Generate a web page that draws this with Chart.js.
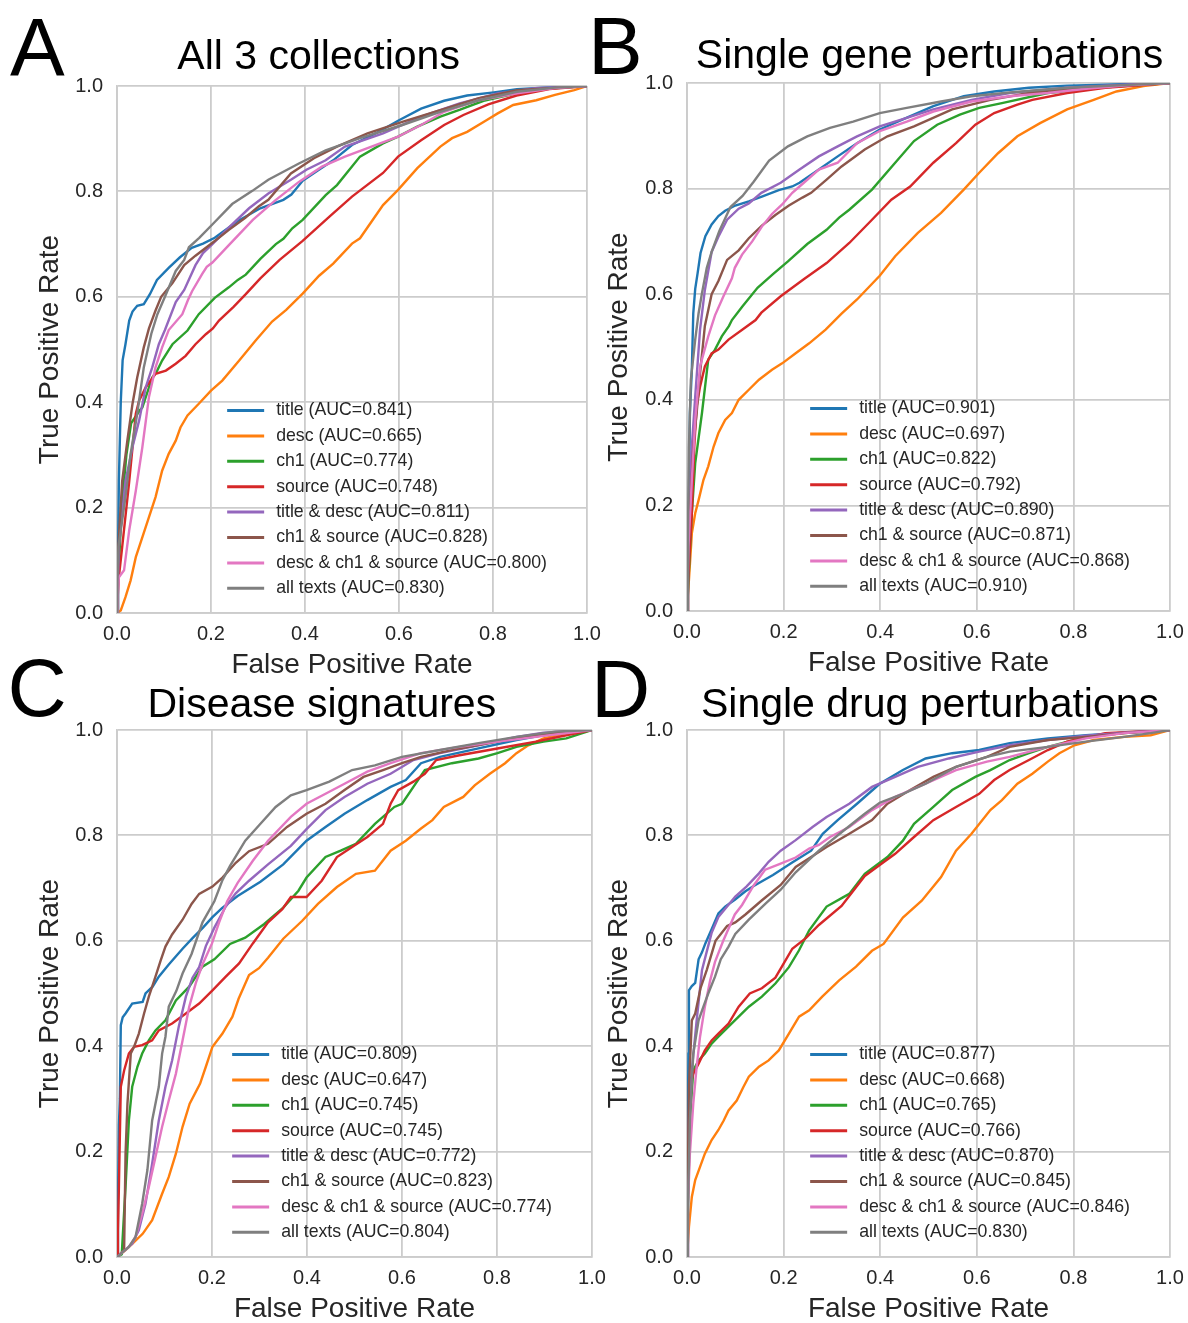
<!DOCTYPE html>
<html>
<head>
<meta charset="utf-8">
<title>ROC curves</title>
<script src="https://cdn.jsdelivr.net/npm/chart.js@4.4.1/dist/chart.umd.min.js"></script>
<style>
    body { margin: 0; background: #fff; }
    #fig { position: relative; width: 1188px; height: 1323px; overflow: hidden; }
    #fig canvas { position: absolute; }
</style>
</head>
<body>
<div id="fig">
    <canvas id="rocAll" width="610" height="690" style="left:0px;top:0px"></canvas>
    <canvas id="rocGene" width="618" height="690" style="left:575px;top:0px"></canvas>
    <canvas id="rocDisease" width="615" height="683" style="left:0px;top:640px"></canvas>
    <canvas id="rocDrug" width="618" height="683" style="left:575px;top:640px"></canvas>
</div>
<script>
const fields = ['title', 'desc', 'ch1', 'source', 'title & desc', 'ch1 & source', 'desc & ch1 & source', 'all texts'];
const colors = ['#1f77b4', '#ff7f0e', '#2ca02c', '#d62728', '#9467bd', '#8c564b', '#e377c2', '#7f7f7f'];

const aucAll = [0.841, 0.665, 0.774, 0.748, 0.811, 0.828, 0.800, 0.830];
const aucGene = [0.901, 0.697, 0.822, 0.792, 0.890, 0.871, 0.868, 0.910];
const aucDisease = [0.809, 0.647, 0.745, 0.745, 0.772, 0.823, 0.774, 0.804];
const aucDrug = [0.877, 0.668, 0.765, 0.766, 0.870, 0.845, 0.846, 0.830];

const tickValues = [0, 0.2, 0.4, 0.6, 0.8, 1.0];

// [false positive rate, true positive rate]
// All 3 collections
const allTitle = [[0,0],[0.002,0.10],[0.004,0.25],[0.008,0.40],[0.012,0.48],[0.018,0.51],[0.026,0.555],[0.033,0.572],[0.043,0.583],[0.057,0.586],[0.07,0.605],[0.085,0.632],[0.11,0.655],[0.134,0.675],[0.159,0.693],[0.183,0.701],[0.208,0.712],[0.257,0.744],[0.305,0.768],[0.354,0.784],[0.371,0.794],[0.395,0.82],[0.428,0.84],[0.46,0.859],[0.50,0.888],[0.55,0.91],[0.60,0.935],[0.647,0.957],[0.696,0.972],[0.745,0.982],[0.802,0.988],[0.851,0.994],[0.908,0.997],[1,1]];
const allDesc = [[0,0],[0.008,0.005],[0.018,0.03],[0.029,0.062],[0.04,0.106],[0.054,0.144],[0.068,0.182],[0.082,0.22],[0.096,0.27],[0.11,0.302],[0.125,0.327],[0.135,0.352],[0.15,0.375],[0.174,0.397],[0.2,0.422],[0.224,0.441],[0.26,0.479],[0.295,0.517],[0.33,0.553],[0.36,0.575],[0.395,0.606],[0.43,0.64],[0.46,0.663],[0.50,0.701],[0.517,0.711],[0.566,0.774],[0.598,0.803],[0.639,0.844],[0.688,0.885],[0.713,0.901],[0.745,0.913],[0.786,0.935],[0.81,0.948],[0.843,0.964],[0.892,0.973],[0.932,0.983],[0.973,0.992],[1,1]];
const allCh1 = [[0,0],[0.002,0.05],[0.004,0.09],[0.01,0.2],[0.02,0.3],[0.03,0.36],[0.049,0.385],[0.054,0.39],[0.075,0.447],[0.0855,0.46],[0.096,0.479],[0.11,0.499],[0.118,0.51],[0.15,0.536],[0.174,0.567],[0.208,0.598],[0.238,0.618],[0.257,0.632],[0.274,0.642],[0.305,0.672],[0.338,0.70],[0.354,0.71],[0.373,0.73],[0.395,0.746],[0.444,0.793],[0.468,0.812],[0.517,0.866],[0.566,0.891],[0.598,0.904],[0.639,0.923],[0.688,0.942],[0.73,0.955],[0.78,0.972],[0.85,0.986],[0.92,0.995],[1,1]];
const allSource = [[0,0],[0.003,0.06],[0.011,0.125],[0.026,0.25],[0.04,0.378],[0.047,0.403],[0.061,0.428],[0.082,0.454],[0.104,0.46],[0.125,0.473],[0.146,0.488],[0.167,0.51],[0.189,0.529],[0.204,0.54],[0.217,0.555],[0.248,0.581],[0.274,0.605],[0.305,0.635],[0.346,0.67],[0.395,0.706],[0.452,0.752],[0.50,0.79],[0.566,0.835],[0.598,0.866],[0.647,0.897],[0.696,0.926],[0.737,0.945],[0.79,0.965],[0.85,0.982],[0.92,0.994],[1,1]];
const allTitleDesc = [[0,0],[0.002,0.06],[0.004,0.125],[0.011,0.188],[0.018,0.25],[0.033,0.315],[0.047,0.365],[0.061,0.428],[0.075,0.466],[0.089,0.51],[0.102,0.537],[0.125,0.59],[0.143,0.613],[0.167,0.66],[0.183,0.683],[0.203,0.70],[0.24,0.733],[0.281,0.768],[0.322,0.796],[0.37,0.822],[0.403,0.841],[0.444,0.859],[0.485,0.885],[0.566,0.91],[0.647,0.942],[0.729,0.967],[0.81,0.986],[0.89,0.996],[1,1]];
const allCh1Source = [[0,0],[0.001,0.08],[0.003,0.13],[0.011,0.25],[0.022,0.327],[0.033,0.397],[0.043,0.447],[0.057,0.504],[0.068,0.54],[0.082,0.574],[0.094,0.60],[0.118,0.626],[0.143,0.66],[0.167,0.678],[0.208,0.706],[0.238,0.727],[0.273,0.75],[0.302,0.772],[0.322,0.784],[0.37,0.834],[0.419,0.863],[0.468,0.885],[0.533,0.91],[0.607,0.932],[0.688,0.954],[0.77,0.977],[0.851,0.992],[1,1]];
const allDescCh1Source = [[0,0],[0.002,0.04],[0.004,0.068],[0.015,0.081],[0.026,0.157],[0.04,0.232],[0.054,0.315],[0.068,0.41],[0.082,0.466],[0.096,0.504],[0.11,0.537],[0.139,0.567],[0.151,0.594],[0.16,0.611],[0.181,0.643],[0.191,0.657],[0.203,0.665],[0.24,0.70],[0.289,0.746],[0.338,0.784],[0.387,0.818],[0.436,0.847],[0.485,0.866],[0.533,0.882],[0.598,0.904],[0.647,0.926],[0.696,0.951],[0.77,0.973],[0.851,0.986],[0.932,0.996],[1,1]];
const allAllTexts = [[0,0],[0.001,0.06],[0.003,0.125],[0.018,0.22],[0.029,0.302],[0.043,0.378],[0.057,0.466],[0.073,0.53],[0.086,0.567],[0.102,0.60],[0.125,0.649],[0.143,0.67],[0.153,0.694],[0.175,0.712],[0.208,0.742],[0.245,0.776],[0.288,0.801],[0.322,0.822],[0.387,0.853],[0.444,0.878],[0.517,0.901],[0.607,0.926],[0.688,0.951],[0.77,0.973],[0.851,0.989],[0.932,0.997],[1,1]];

// Single gene perturbations
const geneTitle = [[0,0],[0.001,0.05],[0.003,0.122],[0.006,0.375],[0.01,0.457],[0.013,0.564],[0.017,0.61],[0.022,0.64],[0.028,0.678],[0.038,0.71],[0.051,0.732],[0.065,0.748],[0.079,0.758],[0.1,0.768],[0.128,0.776],[0.155,0.785],[0.19,0.797],[0.218,0.804],[0.233,0.811],[0.273,0.836],[0.312,0.861],[0.352,0.886],[0.399,0.912],[0.447,0.931],[0.51,0.956],[0.573,0.975],[0.636,0.984],[0.708,0.991],[0.787,0.995],[0.866,0.997],[1,1]];
const geneDesc = [[0,0],[0.001,0.02],[0.004,0.059],[0.01,0.147],[0.017,0.185],[0.024,0.21],[0.034,0.248],[0.044,0.274],[0.055,0.311],[0.065,0.337],[0.079,0.362],[0.093,0.375],[0.107,0.40],[0.128,0.419],[0.149,0.438],[0.176,0.457],[0.197,0.469],[0.225,0.488],[0.253,0.507],[0.287,0.533],[0.32,0.563],[0.352,0.59],[0.399,0.635],[0.431,0.672],[0.478,0.716],[0.526,0.754],[0.573,0.798],[0.605,0.83],[0.644,0.867],[0.684,0.899],[0.731,0.924],[0.787,0.95],[0.842,0.968],[0.889,0.984],[0.945,0.994],[1,1]];
const geneCh1 = [[0,0],[0.001,0.02],[0.003,0.059],[0.01,0.185],[0.017,0.28],[0.031,0.375],[0.044,0.476],[0.058,0.495],[0.072,0.52],[0.087,0.54],[0.093,0.551],[0.115,0.577],[0.146,0.612],[0.178,0.638],[0.209,0.662],[0.249,0.695],[0.289,0.722],[0.315,0.745],[0.336,0.76],[0.383,0.798],[0.431,0.849],[0.47,0.89],[0.518,0.921],[0.565,0.94],[0.605,0.953],[0.652,0.962],[0.747,0.981],[0.866,0.992],[1,1]];
const geneSource = [[0,0],[0.002,0.05],[0.006,0.12],[0.01,0.185],[0.015,0.311],[0.02,0.387],[0.027,0.425],[0.037,0.463],[0.051,0.488],[0.065,0.495],[0.086,0.514],[0.115,0.533],[0.142,0.551],[0.154,0.565],[0.194,0.596],[0.241,0.628],[0.289,0.659],[0.336,0.697],[0.383,0.741],[0.423,0.779],[0.462,0.804],[0.51,0.849],[0.557,0.886],[0.597,0.921],[0.636,0.943],[0.684,0.959],[0.715,0.968],[0.787,0.981],[0.866,0.991],[1,1]];
const geneTitleDesc = [[0,0],[0.002,0.1],[0.005,0.2],[0.01,0.311],[0.017,0.406],[0.027,0.533],[0.037,0.608],[0.051,0.68],[0.065,0.709],[0.083,0.741],[0.107,0.762],[0.128,0.772],[0.154,0.792],[0.194,0.811],[0.233,0.836],[0.273,0.861],[0.312,0.88],[0.352,0.899],[0.399,0.918],[0.455,0.934],[0.51,0.95],[0.589,0.968],[0.668,0.981],[0.787,0.991],[0.905,0.997],[1,1]];
const geneCh1Source = [[0,0],[0.002,0.08],[0.006,0.185],[0.013,0.311],[0.02,0.375],[0.027,0.45],[0.037,0.54],[0.051,0.6],[0.065,0.625],[0.083,0.665],[0.107,0.683],[0.128,0.706],[0.155,0.73],[0.183,0.75],[0.211,0.768],[0.239,0.783],[0.257,0.792],[0.289,0.817],[0.32,0.842],[0.368,0.874],[0.415,0.899],[0.47,0.918],[0.549,0.95],[0.628,0.968],[0.708,0.981],[0.826,0.992],[0.945,0.997],[1,1]];
const geneDescCh1Source = [[0,0],[0.001,0.05],[0.003,0.122],[0.01,0.248],[0.017,0.362],[0.027,0.463],[0.044,0.52],[0.058,0.56],[0.075,0.595],[0.093,0.63],[0.099,0.65],[0.114,0.675],[0.135,0.70],[0.155,0.728],[0.176,0.752],[0.197,0.77],[0.218,0.792],[0.233,0.804],[0.273,0.836],[0.312,0.849],[0.352,0.886],[0.399,0.909],[0.455,0.927],[0.51,0.946],[0.589,0.965],[0.668,0.975],[0.747,0.981],[0.826,0.989],[0.905,0.995],[1,1]];
const geneAllTexts = [[0,0],[0.002,0.15],[0.004,0.311],[0.008,0.438],[0.017,0.514],[0.024,0.564],[0.031,0.602],[0.041,0.65],[0.051,0.68],[0.067,0.72],[0.09,0.765],[0.115,0.786],[0.138,0.813],[0.17,0.853],[0.209,0.88],[0.249,0.899],[0.296,0.915],[0.344,0.927],[0.399,0.943],[0.455,0.953],[0.526,0.965],[0.589,0.975],[0.668,0.982],[0.787,0.991],[0.905,0.996],[1,1]];

// Disease signatures
const diseaseTitle = [[0,0],[0.002,0.1],[0.004,0.25],[0.006,0.30],[0.008,0.44],[0.012,0.455],[0.018,0.462],[0.032,0.481],[0.054,0.484],[0.06,0.50],[0.075,0.513],[0.088,0.532],[0.109,0.555],[0.138,0.585],[0.159,0.605],[0.181,0.625],[0.201,0.645],[0.221,0.662],[0.254,0.685],[0.302,0.712],[0.35,0.745],[0.399,0.79],[0.439,0.816],[0.479,0.841],[0.527,0.867],[0.576,0.892],[0.608,0.905],[0.64,0.937],[0.68,0.949],[0.761,0.965],[0.841,0.981],[0.922,0.994],[1,1]];
const diseaseDesc = [[0,0],[0.018,0.013],[0.032,0.025],[0.054,0.044],[0.074,0.07],[0.095,0.12],[0.109,0.152],[0.124,0.196],[0.138,0.247],[0.153,0.291],[0.175,0.329],[0.187,0.361],[0.201,0.399],[0.222,0.424],[0.243,0.456],[0.256,0.49],[0.278,0.535],[0.299,0.548],[0.318,0.568],[0.35,0.604],[0.39,0.638],[0.423,0.67],[0.463,0.702],[0.503,0.727],[0.543,0.733],[0.576,0.771],[0.608,0.79],[0.64,0.813],[0.664,0.829],[0.688,0.854],[0.729,0.873],[0.753,0.895],[0.785,0.917],[0.817,0.937],[0.841,0.956],[0.866,0.971],[0.898,0.984],[0.946,0.994],[1,1]];
const diseaseCh1 = [[0,0],[0.01,0.005],[0.018,0.133],[0.025,0.259],[0.032,0.323],[0.043,0.361],[0.053,0.386],[0.067,0.411],[0.081,0.43],[0.102,0.449],[0.124,0.487],[0.152,0.513],[0.18,0.551],[0.205,0.565],[0.238,0.594],[0.27,0.606],[0.31,0.632],[0.35,0.663],[0.382,0.695],[0.399,0.72],[0.439,0.759],[0.471,0.771],[0.503,0.784],[0.543,0.822],[0.584,0.854],[0.6,0.86],[0.624,0.892],[0.648,0.924],[0.705,0.937],[0.761,0.946],[0.801,0.956],[0.841,0.968],[0.898,0.978],[0.946,0.984],[1,1]];
const diseaseSource = [[0,0],[0.002,0.05],[0.004,0.133],[0.008,0.323],[0.015,0.354],[0.025,0.386],[0.036,0.399],[0.053,0.402],[0.074,0.411],[0.088,0.43],[0.116,0.443],[0.145,0.462],[0.173,0.481],[0.201,0.506],[0.229,0.532],[0.257,0.557],[0.286,0.595],[0.318,0.635],[0.348,0.66],[0.366,0.683],[0.399,0.683],[0.431,0.714],[0.463,0.759],[0.495,0.778],[0.527,0.797],[0.56,0.822],[0.576,0.86],[0.592,0.886],[0.624,0.902],[0.648,0.917],[0.672,0.943],[0.721,0.952],[0.801,0.965],[0.882,0.978],[0.946,0.99],[1,1]];
const diseaseTitleDesc = [[0,0],[0.032,0.025],[0.046,0.051],[0.06,0.101],[0.074,0.177],[0.088,0.259],[0.102,0.323],[0.116,0.373],[0.13,0.437],[0.145,0.494],[0.159,0.53],[0.173,0.55],[0.187,0.59],[0.205,0.625],[0.229,0.665],[0.25,0.69],[0.278,0.714],[0.318,0.745],[0.366,0.78],[0.399,0.812],[0.439,0.848],[0.479,0.873],[0.527,0.898],[0.576,0.917],[0.624,0.943],[0.68,0.956],[0.761,0.971],[0.841,0.987],[0.898,0.995],[1,1]];
const diseaseCh1Source = [[0,0],[0.015,0.013],[0.018,0.196],[0.022,0.291],[0.029,0.386],[0.036,0.399],[0.046,0.424],[0.057,0.462],[0.067,0.494],[0.081,0.532],[0.092,0.563],[0.102,0.589],[0.116,0.612],[0.138,0.64],[0.157,0.67],[0.173,0.689],[0.201,0.703],[0.222,0.72],[0.25,0.748],[0.278,0.77],[0.318,0.784],[0.358,0.816],[0.399,0.841],[0.439,0.86],[0.479,0.886],[0.519,0.911],[0.56,0.924],[0.6,0.937],[0.64,0.949],[0.721,0.965],[0.801,0.978],[0.882,0.99],[1,1]];
const diseaseDescCh1Source = [[0,0],[0.025,0.019],[0.039,0.038],[0.053,0.082],[0.067,0.133],[0.081,0.19],[0.095,0.247],[0.109,0.297],[0.124,0.348],[0.138,0.411],[0.152,0.475],[0.166,0.52],[0.18,0.555],[0.2,0.595],[0.215,0.635],[0.232,0.675],[0.254,0.71],[0.286,0.752],[0.318,0.79],[0.366,0.835],[0.399,0.86],[0.439,0.879],[0.479,0.898],[0.527,0.921],[0.576,0.937],[0.64,0.956],[0.721,0.968],[0.801,0.978],[0.882,0.987],[1,1]];
const diseaseAllTexts = [[0,0],[0.025,0.019],[0.039,0.038],[0.053,0.101],[0.064,0.165],[0.074,0.259],[0.088,0.323],[0.095,0.386],[0.102,0.418],[0.109,0.475],[0.125,0.505],[0.138,0.538],[0.157,0.575],[0.18,0.635],[0.205,0.675],[0.222,0.715],[0.238,0.742],[0.27,0.79],[0.302,0.822],[0.334,0.854],[0.366,0.876],[0.399,0.886],[0.447,0.902],[0.495,0.924],[0.543,0.933],[0.6,0.949],[0.68,0.962],[0.761,0.975],[0.841,0.987],[0.922,0.997],[1,1]];

// Single drug perturbations
const drugTitle = [[0,0],[0.001,0.196],[0.003,0.386],[0.004,0.506],[0.01,0.514],[0.017,0.52],[0.024,0.565],[0.031,0.578],[0.038,0.595],[0.051,0.622],[0.065,0.652],[0.079,0.665],[0.099,0.678],[0.121,0.694],[0.138,0.704],[0.178,0.725],[0.217,0.748],[0.257,0.771],[0.281,0.803],[0.312,0.829],[0.352,0.86],[0.399,0.898],[0.447,0.924],[0.494,0.946],[0.549,0.956],[0.605,0.962],[0.668,0.975],[0.747,0.984],[0.826,0.99],[0.905,0.995],[1,1]];
const drugDesc = [[0,0],[0.004,0.057],[0.01,0.114],[0.017,0.146],[0.027,0.171],[0.037,0.196],[0.051,0.222],[0.065,0.241],[0.076,0.259],[0.086,0.278],[0.103,0.297],[0.117,0.323],[0.128,0.342],[0.149,0.361],[0.169,0.373],[0.19,0.392],[0.211,0.424],[0.232,0.456],[0.253,0.468],[0.28,0.494],[0.315,0.525],[0.35,0.551],[0.383,0.581],[0.407,0.594],[0.447,0.644],[0.486,0.676],[0.526,0.721],[0.557,0.771],[0.589,0.803],[0.628,0.848],[0.652,0.867],[0.684,0.898],[0.715,0.917],[0.747,0.94],[0.771,0.956],[0.802,0.971],[0.842,0.981],[0.905,0.987],[0.96,0.99],[1,1]];
const drugCh1 = [[0,0],[0.003,0.133],[0.006,0.26],[0.013,0.354],[0.024,0.373],[0.037,0.386],[0.051,0.405],[0.065,0.418],[0.086,0.437],[0.107,0.456],[0.128,0.475],[0.155,0.494],[0.183,0.519],[0.211,0.55],[0.232,0.582],[0.253,0.62],[0.289,0.665],[0.322,0.682],[0.336,0.689],[0.368,0.727],[0.415,0.759],[0.447,0.79],[0.47,0.822],[0.51,0.854],[0.549,0.886],[0.597,0.911],[0.628,0.924],[0.668,0.943],[0.708,0.956],[0.747,0.968],[0.826,0.987],[0.905,0.994],[1,1]];
const drugSource = [[0,0],[0.003,0.196],[0.006,0.323],[0.013,0.348],[0.024,0.367],[0.037,0.392],[0.051,0.411],[0.065,0.424],[0.086,0.443],[0.107,0.475],[0.13,0.5],[0.155,0.51],[0.183,0.53],[0.197,0.552],[0.218,0.585],[0.246,0.605],[0.273,0.63],[0.32,0.666],[0.368,0.723],[0.399,0.744],[0.431,0.765],[0.47,0.797],[0.51,0.829],[0.557,0.854],[0.605,0.879],[0.636,0.905],[0.668,0.924],[0.708,0.943],[0.747,0.962],[0.787,0.978],[0.866,0.994],[1,1]];
const drugTitleDesc = [[0,0],[0.002,0.2],[0.005,0.3],[0.01,0.354],[0.02,0.449],[0.031,0.544],[0.041,0.58],[0.051,0.615],[0.065,0.645],[0.083,0.665],[0.1,0.684],[0.123,0.703],[0.149,0.728],[0.169,0.75],[0.194,0.771],[0.225,0.791],[0.26,0.816],[0.289,0.835],[0.336,0.86],[0.383,0.892],[0.431,0.911],[0.478,0.93],[0.542,0.946],[0.605,0.959],[0.668,0.971],[0.747,0.981],[0.826,0.989],[0.905,0.995],[1,1]];
const drugCh1Source = [[0,0],[0.001,0.1],[0.004,0.323],[0.01,0.449],[0.017,0.462],[0.028,0.51],[0.041,0.545],[0.059,0.6],[0.083,0.628],[0.1,0.635],[0.121,0.65],[0.154,0.676],[0.194,0.706],[0.225,0.74],[0.257,0.759],[0.289,0.778],[0.336,0.803],[0.383,0.829],[0.415,0.86],[0.462,0.886],[0.51,0.911],[0.557,0.93],[0.621,0.949],[0.668,0.968],[0.747,0.981],[0.826,0.987],[0.905,0.994],[1,1]];
const drugDescCh1Source = [[0,0],[0.002,0.1],[0.006,0.196],[0.013,0.291],[0.02,0.361],[0.027,0.418],[0.037,0.475],[0.048,0.525],[0.058,0.56],[0.075,0.6],[0.099,0.65],[0.114,0.668],[0.138,0.705],[0.162,0.735],[0.19,0.745],[0.225,0.758],[0.253,0.775],[0.273,0.782],[0.296,0.797],[0.336,0.816],[0.383,0.848],[0.431,0.873],[0.494,0.898],[0.557,0.924],[0.621,0.94],[0.668,0.949],[0.747,0.968],[0.826,0.984],[0.905,0.994],[1,1]];
const drugAllTexts = [[0,0],[0.002,0.1],[0.006,0.26],[0.013,0.386],[0.024,0.449],[0.034,0.475],[0.044,0.5],[0.058,0.532],[0.07,0.565],[0.086,0.589],[0.1,0.613],[0.128,0.64],[0.162,0.67],[0.194,0.697],[0.225,0.73],[0.273,0.771],[0.32,0.806],[0.368,0.841],[0.399,0.862],[0.447,0.879],[0.494,0.898],[0.557,0.93],[0.621,0.949],[0.668,0.959],[0.747,0.968],[0.826,0.978],[0.905,0.987],[0.96,0.994],[1,1]];

const FONT = '"Liberation Sans", Arial, Helvetica, sans-serif';
const TEXT = '#262626';
const GRID = '#cccccc';
Chart.defaults.font.family = FONT;

// big panel letter + panel title
const panelHeading = {
    id: 'panelHeading',
    afterDraw(chart, args, opts) {
        const ctx = chart.ctx;
        ctx.save();
        ctx.fillStyle = '#000';
        ctx.textBaseline = 'alphabetic';
        ctx.textAlign = 'left';
        ctx.font = '82px ' + FONT;
        ctx.fillText(opts.letter, opts.letterX, opts.letterY);
        ctx.textAlign = 'center';
        ctx.font = '41px ' + FONT;
        ctx.fillText(opts.text, opts.titleX, opts.titleY);
        ctx.restore();
    }
};

// frameless legend in the lower right corner of the plot
const rocLegend = {
    id: 'rocLegend',
    afterDatasetsDraw(chart) {
        const {ctx, chartArea} = chart;
        const sets = chart.data.datasets;
        ctx.save();
        ctx.font = '17.7px ' + FONT;
        ctx.textBaseline = 'middle';
        ctx.textAlign = 'left';
        const widest = Math.max(...sets.map(d => ctx.measureText(d.label).width));
        const textX = chartArea.right - 40 - widest;
        sets.forEach((d, i) => {
            const y = chartArea.bottom - 24.7 - (sets.length - 1 - i) * 25.4;
            ctx.strokeStyle = d.borderColor;
            ctx.lineWidth = 3;
            ctx.beginPath();
            ctx.moveTo(textX - 49, y);
            ctx.lineTo(textX - 12, y);
            ctx.stroke();
            ctx.fillStyle = TEXT;
            ctx.fillText(d.label, textX, y);
        });
        ctx.restore();
    }
};

function rocChart(canvasId, curves, aucs, heading, box) {
    const datasets = curves.map((pts, i) => ({
        label: fields[i] + ' (AUC=' + aucs[i].toFixed(3) + ')',
        data: pts.map(p => ({x: p[0], y: p[1]})),
        borderColor: colors[i],
        backgroundColor: colors[i],
        borderWidth: 2.4,
        pointRadius: 0,
        tension: 0,
        fill: false,
        order: curves.length - i // later series on top
    }));
    const axis = (label, titlePad) => ({
        type: 'linear',
        min: 0,
        max: 1,
        afterBuildTicks: s => { s.ticks = tickValues.map(v => ({value: v})); },
        ticks: {
            color: TEXT,
            font: {size: 20},
            callback: v => v.toFixed(1)
        },
        grid: {color: GRID, lineWidth: 1.8, drawTicks: false},
        border: {color: GRID, width: 1.8},
        title: {
            display: true,
            text: label,
            color: TEXT,
            font: {size: 28, lineHeight: 1},
            padding: titlePad
        }
    });
    const x = axis('False Positive Rate', {top: 0, bottom: box.xTitlePad});
    x.ticks.padding = 9;
    x.afterFit = s => { s.height = box.xHeight; };
    const y = axis('True Positive Rate', {top: box.yTitlePad, bottom: 0});
    y.ticks.padding = 14;
    y.afterFit = s => { s.width = box.yWidth; };

    const config = {
        type: 'line',
        data: {datasets: datasets},
        options: {
            responsive: false,
            animation: false,
            devicePixelRatio: 1,
            events: [],
            layout: {padding: {top: box.top, right: box.right, bottom: 0, left: 0}},
            plugins: {
                legend: {display: false},
                tooltip: {enabled: false},
                panelHeading: heading
            },
            scales: {x: x, y: y}
        },
        plugins: [panelHeading, rocLegend]
    };
    return new Chart(document.getElementById(canvasId).getContext('2d'), config);
}

const allCurves = [allTitle, allDesc, allCh1, allSource, allTitleDesc, allCh1Source, allDescCh1Source, allAllTexts];
const geneCurves = [geneTitle, geneDesc, geneCh1, geneSource, geneTitleDesc, geneCh1Source, geneDescCh1Source, geneAllTexts];
const diseaseCurves = [diseaseTitle, diseaseDesc, diseaseCh1, diseaseSource, diseaseTitleDesc, diseaseCh1Source, diseaseDescCh1Source, diseaseAllTexts];
const drugCurves = [drugTitle, drugDesc, drugCh1, drugSource, drugTitleDesc, drugCh1Source, drugDescCh1Source, drugAllTexts];

// right padding has to cover the last x tick label plus its padding (23px)
var chartAll = rocChart('rocAll', allCurves, aucAll,
    {letter: 'A', letterX: 10, letterY: 75, text: 'All 3 collections', titleX: 318.6, titleY: 69},
    {top: 86, right: 23, yWidth: 117, xHeight: 77, yTitlePad: 36.5, xTitlePad: 11});
var chartGene = rocChart('rocGene', geneCurves, aucGene,
    {letter: 'B', letterX: 13, letterY: 74, text: 'Single gene perturbations', titleX: 354.5, titleY: 68},
    {top: 83, right: 23, yWidth: 112, xHeight: 79, yTitlePad: 30.7, xTitlePad: 12.7});
var chartDisease = rocChart('rocDisease', diseaseCurves, aucDisease,
    {letter: 'C', letterX: 7.5, letterY: 76, text: 'Disease signatures', titleX: 321.8, titleY: 76.5},
    {top: 90, right: 23, yWidth: 117, xHeight: 66, yTitlePad: 36.5, xTitlePad: 0});
var chartDrug = rocChart('rocDrug', drugCurves, aucDrug,
    {letter: 'D', letterX: 16, letterY: 76.5, text: 'Single drug perturbations', titleX: 355, titleY: 76.5},
    {top: 90, right: 23, yWidth: 112, xHeight: 66, yTitlePad: 30.7, xTitlePad: 0});
</script>
